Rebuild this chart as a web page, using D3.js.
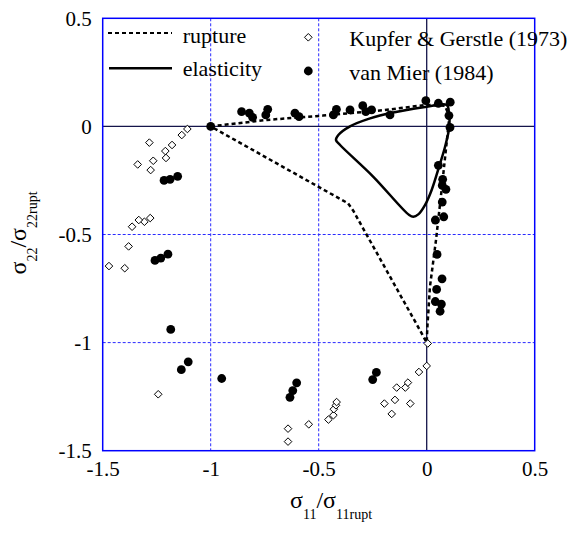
<!DOCTYPE html>
<html>
<head>
<meta charset="utf-8">
<script src="https://cdn.jsdelivr.net/npm/d3@7"></script>
<style>
html,body{margin:0;padding:0;background:#fff;}
svg{display:block;}
text{font-family:"Liberation Serif","Times New Roman",serif;fill:#000;}
</style>
</head>
<body>
<svg id="chart" width="576" height="534"></svg>
<script>
// ---- data ----
const xTicks = [-1.5, -1, -0.5, 0, 0.5];
const yTicks = [-1.5, -1, -0.5, 0, 0.5];
const xTickLabels = ["-1.5", "-1", "-0.5", "0", "0.5"];
const yTickLabels = ["-1.5", "-1", "-0.5", "0", "0.5"];
const gridX = [-1, -0.5];
const gridY = [-0.5, -1];

const kupferX = [-1.108,-1.134,-1.284,-1.179,-1.210,-1.266,-1.207,-1.338,-1.278,-1.280,-1.307,-1.333,-1.364,-1.380,-1.471,-1.398,
  -1.243,-0.642,-0.642,-0.546,-0.455,-0.432,-0.430,-0.420,-0.417,-0.196,-0.162,-0.147,-0.139,-0.099,-0.087,-0.076,-0.036,0.0,0.005];
const kupferY = [-0.012,-0.040,-0.075,-0.086,-0.114,-0.159,-0.146,-0.176,-0.202,-0.424,-0.441,-0.433,-0.464,-0.555,-0.646,-0.656,
  -1.239,-1.398,-1.458,-1.378,-1.356,-1.336,-1.308,-1.290,-1.275,-1.282,-1.330,-1.265,-1.208,-1.208,-1.185,-1.282,-1.136,-1.108,-1.004];

const mierX = [-1.0,-1.216,-1.188,-1.153,-1.258,-1.231,-1.198,-1.185,-1.104,-1.136,-0.949,-0.602,-0.620,-0.633,-0.233,-0.250,
  -0.857,-0.821,-0.806,-0.736,-0.745,-0.610,-0.591,-0.418,-0.432,-0.355,-0.296,-0.282,-0.255,-0.170,
  -0.004,0.054,0.109,0.103,0.108,0.054,0.074,0.072,0.089,0.072,0.079,0.040,0.048,0.071,0.046,0.040,0.068,0.062];
const mierY = [0.0,-0.250,-0.245,-0.231,-0.620,-0.609,-0.591,-0.939,-1.089,-1.125,-1.166,-1.186,-1.222,-1.253,-1.138,-1.171,
  0.068,0.061,0.042,0.079,0.053,0.061,0.045,0.079,0.053,0.076,0.096,0.068,0.076,0.053,
  0.119,0.107,0.112,0.050,-0.005,-0.180,-0.245,-0.273,-0.291,-0.350,-0.418,-0.433,-0.592,-0.705,-0.754,-0.810,-0.822,-0.855];

const ruptureX = [-1.0,-0.74,-0.48,-0.2,0.0,0.085,0.105,0.095,0.069,0.043,0.015,0.003,0.0,-0.04,-0.1,-0.34,-0.365,-0.40,-1.0];
const ruptureY = [0.0,0.03,0.05,0.075,0.1,0.095,0.045,-0.05,-0.294,-0.526,-0.742,-0.93,-1.0,-0.927,-0.82,-0.39,-0.355,-0.336,0.0];

const elastX = [0.093,0.103,0.105,0.085,0.062,0.023,-0.008,-0.039,-0.062,-0.081,-0.247,-0.401,-0.420,-0.409,-0.355,-0.262,-0.155,0.0];
const elastY = [0.099,0.061,0.0,-0.094,-0.171,-0.294,-0.364,-0.407,-0.418,-0.410,-0.233,-0.086,-0.063,-0.040,0.0,0.037,0.064,0.091];

const legendLines = ["rupture", "elasticity"];
const legendMarkers = ["Kupfer & Gerstle (1973)", "van Mier (1984)"];

// ---- layout ----
const svg = d3.select("#chart");
const L = 102.7, R = 534.7, T = 18.3, B = 450.7;
const x = d3.scaleLinear().domain([-1.5, 0.5]).range([L, R]);
const y = d3.scaleLinear().domain([-1.5, 0.5]).range([B, T]);

// grid
const g = svg.append("g");
g.selectAll("line.gx").data(gridX).enter().append("line")
  .attr("x1", d => x(d)).attr("x2", d => x(d)).attr("y1", T).attr("y2", B)
  .attr("stroke", "#2a2aff").attr("stroke-width", 1).attr("stroke-dasharray", "3,2");
g.selectAll("line.gy").data(gridY).enter().append("line")
  .attr("y1", d => y(d)).attr("y2", d => y(d)).attr("x1", L).attr("x2", R)
  .attr("stroke", "#2a2aff").attr("stroke-width", 1).attr("stroke-dasharray", "3,2");
// zero lines
g.append("line").attr("x1", x(0)).attr("x2", x(0)).attr("y1", T).attr("y2", B)
  .attr("stroke", "#14144a").attr("stroke-width", 1.3);
g.append("line").attr("y1", y(0)).attr("y2", y(0)).attr("x1", L).attr("x2", R)
  .attr("stroke", "#14144a").attr("stroke-width", 1.3);

// curves
const rupture = ruptureX.map((v, i) => [v, ruptureY[i]]);
const elast = elastX.map((v, i) => [v, elastY[i]]);
svg.append("path").datum(rupture)
  .attr("d", d3.line().x(d => x(d[0])).y(d => y(d[1])))
  .attr("fill", "none").attr("stroke", "#000").attr("stroke-width", 2.5)
  .attr("stroke-dasharray", "4,3");
svg.append("path").datum(elast)
  .attr("d", d3.line().x(d => x(d[0])).y(d => y(d[1])).curve(d3.curveCatmullRomClosed.alpha(0.5)))
  .attr("fill", "none").attr("stroke", "#000").attr("stroke-width", 2.5);

// markers
const diamond = (cx, cy, r) => `M${cx},${cy - r}L${cx + r},${cy}L${cx},${cy + r}L${cx - r},${cy}Z`;
const kup = kupferX.map((v, i) => [v, kupferY[i]]);
const mier = mierX.map((v, i) => [v, mierY[i]]);
svg.selectAll("path.kup").data(kup).enter().append("path")
  .attr("d", d => diamond(x(d[0]), y(d[1]), 3.8))
  .attr("fill", "#fff").attr("stroke", "#000").attr("stroke-width", 1);
svg.selectAll("circle.mier").data(mier).enter().append("circle")
  .attr("cx", d => x(d[0])).attr("cy", d => y(d[1])).attr("r", 4.4)
  .attr("fill", "#000");

// border
svg.append("rect").attr("x", L).attr("y", T).attr("width", R - L).attr("height", B - T)
  .attr("fill", "none").attr("stroke", "#0000ff").attr("stroke-width", 1.5);

// axes
const fs = 21;
const xAxis = d3.axisBottom(x).tickValues(xTicks).tickSize(0).tickPadding(10)
  .tickFormat((d, i) => xTickLabels[i]);
const gx = svg.append("g").attr("transform", `translate(0,${B})`).call(xAxis);
gx.select(".domain").remove();
gx.selectAll("text").attr("font-size", fs).attr("font-family", "Liberation Serif").attr("fill", "#000");

const yAxis = d3.axisLeft(y).tickValues(yTicks).tickSize(0).tickPadding(11)
  .tickFormat((d, i) => yTickLabels[i]);
const gy = svg.append("g").attr("transform", `translate(${L},0)`).call(yAxis);
gy.select(".domain").remove();
gy.selectAll("text").attr("font-size", fs).attr("font-family", "Liberation Serif").attr("fill", "#000");

// axis titles
function sigmaTitle(sel, sub1, sub2) {
  const t = sel.append("text").attr("text-anchor", "middle").attr("font-size", 24);
  t.append("tspan").text("σ");
  t.append("tspan").attr("font-size", 14).attr("dy", 11).text(sub1);
  t.append("tspan").attr("dy", -11).text("/σ");
  t.append("tspan").attr("font-size", 14).attr("dy", 11).text(sub2);
  return t;
}
sigmaTitle(svg.append("g").attr("transform", "translate(331,508)"), "11", "11rupt");
sigmaTitle(svg.append("g").attr("transform", "translate(26,233) rotate(-90)"), "22", "22rupt");

// legend
const lg = svg.append("g");
const lfs = 22;
lg.append("line").attr("x1", 108).attr("x2", 172).attr("y1", 33).attr("y2", 33)
  .attr("stroke", "#000").attr("stroke-width", 2).attr("stroke-dasharray", "4,3");
lg.append("line").attr("x1", 109).attr("x2", 172).attr("y1", 68.3).attr("y2", 68.3)
  .attr("stroke", "#000").attr("stroke-width", 2.5);
lg.append("text").attr("x", 182.7).attr("y", 42.5).attr("font-size", lfs).text(legendLines[0]);
lg.append("text").attr("x", 182.7).attr("y", 76).attr("font-size", lfs).text(legendLines[1]);
lg.append("path").attr("d", diamond(308.3, 37.3, 3.8)).attr("fill", "#fff").attr("stroke", "#000").attr("stroke-width", 1);
lg.append("circle").attr("cx", 308.3).attr("cy", 71).attr("r", 4.4).attr("fill", "#000");
lg.append("text").attr("x", 349.3).attr("y", 45.7).attr("font-size", lfs).text(legendMarkers[0]);
lg.append("text").attr("x", 349.3).attr("y", 80).attr("font-size", lfs).text(legendMarkers[1]);
</script>
</body>
</html>
